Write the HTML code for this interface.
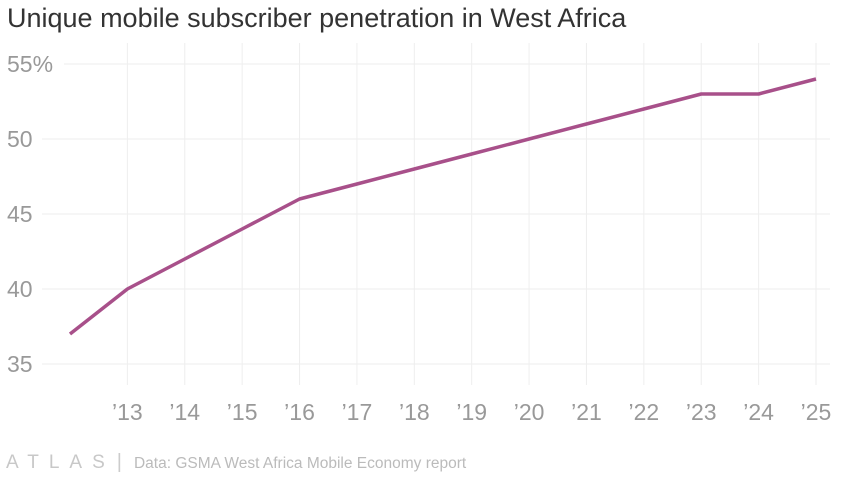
<!DOCTYPE html>
<html><head><meta charset="utf-8"><style>
body{margin:0;background:#fff;width:850px;height:478px;overflow:hidden;font-family:"Liberation Sans",sans-serif}
#title{position:absolute;left:7px;top:3px;font-size:27px;color:#333;margin:0;font-weight:normal}
#foot{position:absolute;left:6px;top:451px;font-size:15.5px;color:#bbb;white-space:nowrap}
</style></head><body>
<h1 id="title">Unique mobile subscriber penetration in West Africa</h1>
<svg id="chart" width="850" height="478" style="position:absolute;left:0;top:0"></svg>
<div id="foot"><span style="letter-spacing:10px;font-size:19px;color:#c8c8c8">ATLAS</span><span style="color:#ccc;font-size:20px;margin:0 12px 0 2px">|</span><span>Data: GSMA West Africa Mobile Economy report</span></div>
<script>
const years=[2012,2013,2014,2015,2016,2017,2018,2019,2020,2021,2022,2023,2024,2025];
const values=[37,40,42,44,46,47,48,49,50,51,52,53,53,54];
const yTicks=[35,40,45,50,55];
const xTickYears=[2013,2014,2015,2016,2017,2018,2019,2020,2021,2022,2023,2024,2025];
const NS="http://www.w3.org/2000/svg";
const svg=document.getElementById('chart');
const x=v=>70+(v-2012)*(816-70)/13;
const y=v=>364-(v-35)*15;
function mk(t,a){const e=document.createElementNS(NS,t);for(const k in a)e.setAttribute(k,a[k]);svg.appendChild(e);return e;}
yTicks.forEach(t=>{
  const lbl=t===55?'55%':String(t);
  const g=mk('line',{x1:t===55?64:42,x2:830,y1:y(t),y2:y(t),stroke:'#eee','stroke-width':1});
  
  
  const tx=mk('text',{x:7,y:y(t)+8,'font-size':23,fill:'#999','font-family':'Liberation Sans, sans-serif'});
  tx.textContent=lbl;
  
  
});
xTickYears.forEach(yr=>{
  const g=mk('line',{x1:x(yr),x2:x(yr),y1:43,y2:385,stroke:'#eee','stroke-width':1});
  
  
  const tx=mk('text',{x:x(yr),y:420,'font-size':23,fill:'#999','text-anchor':'middle','font-family':'Liberation Sans, sans-serif'});
  tx.textContent='\u2019'+String(yr).slice(2);
  
  
});
const p=mk('polyline',{points:years.map((yr,i)=>x(yr)+','+y(values[i])).join(' '),fill:'none',stroke:'#a8508a','stroke-width':3.5,'stroke-linejoin':'round'});


</script>
</body></html>
